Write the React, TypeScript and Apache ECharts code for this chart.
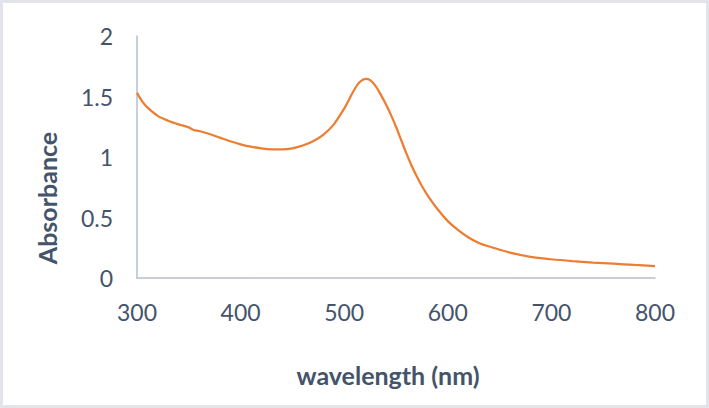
import React, { useEffect, useRef } from "react";
import * as echarts from "echarts";

const wavelengths = [
  300, 305, 310, 320, 330, 340, 350, 352, 355, 360, 370, 380, 390, 400, 410, 420, 430, 440, 450, 460,
  470, 480, 490, 500, 505, 510, 515, 521, 525, 530, 535, 540, 545, 550, 555, 560, 565, 570, 575, 580,
  590, 600, 610, 620, 630, 640, 660, 680, 700, 720, 740, 760, 780, 800,
];
const absorbance = [
  1.53, 1.46, 1.41, 1.34, 1.3, 1.27, 1.245, 1.235, 1.222, 1.215, 1.19, 1.16, 1.13, 1.105, 1.085, 1.072,
  1.064, 1.063, 1.072, 1.095, 1.13, 1.185, 1.27, 1.4, 1.48, 1.56, 1.62, 1.645, 1.635, 1.59, 1.52, 1.44,
  1.35, 1.25, 1.14, 1.03, 0.93, 0.84, 0.76, 0.69, 0.57, 0.47, 0.395, 0.335, 0.29, 0.26, 0.21, 0.175,
  0.155, 0.14, 0.128, 0.118, 0.108, 0.099,
];
const yTicks = ["0", "0.5", "1", "1.5", "2"];
const xTitle = "wavelength (nm)";
const yTitle = "Absorbance";

const TEXT = "#44546a";
const AXIS = "#b4bfce";
const FONT = "Lato, 'Open Sans', sans-serif";

export default function App() {
  const ref = useRef<HTMLDivElement>(null);
  useEffect(() => {
    if (!ref.current) return;
    const chart = echarts.init(ref.current, undefined, { renderer: "svg" });
    const data = wavelengths.map((w, i) => [w, absorbance[i]]);
    chart.setOption({
      animation: false,
      backgroundColor: "#ffffff",
      textStyle: { fontFamily: FONT },
      grid: { left: 137, right: 54, top: 36, bottom: 130 },
      xAxis: {
        type: "value",
        min: 300,
        max: 800,
        interval: 100,
        axisLine: { show: true, lineStyle: { color: AXIS, width: 1.5 } },
        axisTick: { show: false },
        splitLine: { show: false },
        axisLabel: { color: TEXT, fontSize: 23, margin: 22, fontFamily: FONT },
      },
      yAxis: {
        type: "value",
        min: 0,
        max: 2,
        interval: 0.5,
        axisLine: { show: true, lineStyle: { color: AXIS, width: 1.5 } },
        axisTick: { show: false },
        splitLine: { show: false },
        axisLabel: {
          color: TEXT,
          fontSize: 23,
          margin: 24,
          fontFamily: FONT,
          formatter: (v: number) => {
            const idx = Math.round(v / 0.5);
            return yTicks[idx] ?? String(v);
          },
        },
      },
      series: [
        {
          type: "line",
          data,
          smooth: 0.3,
          showSymbol: false,
          lineStyle: { color: "#ed7d31", width: 2.25 },
          itemStyle: { color: "#ed7d31" },
        },
      ],
      graphic: [
        {
          type: "rect",
          shape: { x: 1.5, y: 1.5, width: 706, height: 405 },
          style: { fill: "none", stroke: "#e3e4e9", lineWidth: 3 },
          silent: true,
        },
        {
          type: "text",
          x: 388,
          y: 375,
          style: {
            text: xTitle,
            fill: TEXT,
            font: `bold 25px ${FONT}`,
            align: "center",
            verticalAlign: "middle",
          },
        },
        {
          type: "text",
          x: 47,
          y: 198,
          rotation: Math.PI / 2,
          style: {
            text: yTitle,
            fill: TEXT,
            font: `bold 25px ${FONT}`,
            align: "center",
            verticalAlign: "middle",
          },
        },
      ],
    });
    return () => chart.dispose();
  }, []);
  return (
    <div
      ref={ref}
      style={{ position: "absolute", left: 0, top: 0, width: 709, height: 408 }}
    />
  );
}
